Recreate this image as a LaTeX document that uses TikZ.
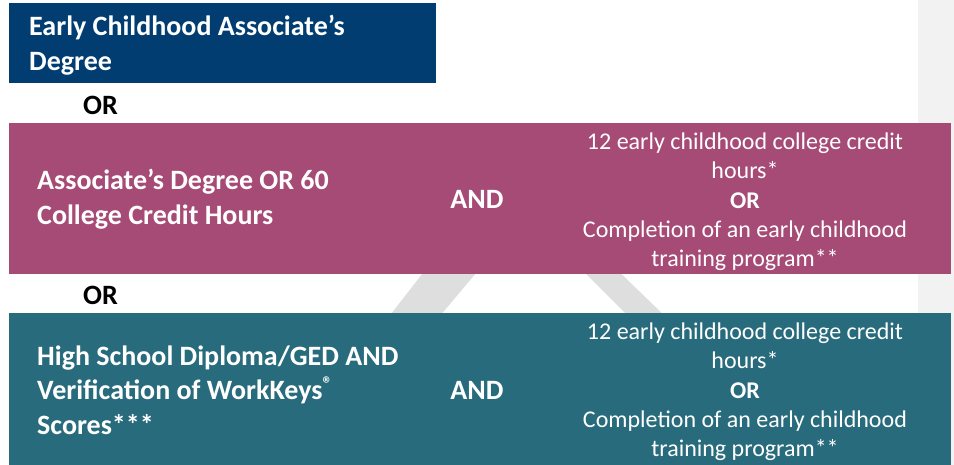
\documentclass[tikz,border=0pt]{standalone}
\usepackage{fontspec}
\setmainfont{Carlito}
\definecolor{navy}{HTML}{023D72}
\definecolor{plum}{HTML}{A64A76}
\definecolor{tealband}{HTML}{286B7C}
\definecolor{stripgray}{HTML}{F2F2F2}
\definecolor{wmgray}{HTML}{DEDEDE}
\begin{document}
\begin{tikzpicture}[x=1pt,y=-1pt,
  band/.style={draw=none,inner sep=0pt,outer sep=0pt,anchor=north west},
  lefttxt/.style={text=white,font=\bfseries\fontsize{28}{34.5}\selectfont,align=left,anchor=west,inner sep=0pt},
  ortxt/.style={text=black,font=\bfseries\fontsize{28}{34}\selectfont,anchor=west,inner sep=0pt},
  andtxt/.style={text=white,font=\bfseries\fontsize{28}{34}\selectfont,anchor=center,inner sep=0pt},
  righttxt/.style={text=white,font=\fontsize{24}{29.3}\selectfont,align=center,anchor=center,inner sep=0pt}]
\useasboundingbox (0,0) rectangle (954,465);
\fill[white] (0,0) rectangle (954,465);
\fill[stripgray] (918,0) rectangle (954,465);
% watermark stripes
\fill[wmgray] (433,260) -- (487,260) -- (434,323) -- (384,323) -- cycle;
\fill[wmgray] (572,260) -- (607,260) -- (672,323) -- (635,323) -- cycle;
% bands
\node[band,fill=navy,minimum width=427pt,minimum height=80pt] (b1) at (9,3) {};
\node[band,fill=plum,minimum width=942pt,minimum height=151pt] (b2) at (9,123) {};
\node[band,fill=tealband,minimum width=942pt,minimum height=152pt] (b3) at (9,313) {};
% texts
\node[lefttxt] (t1) at (29,45) {Early Childhood Associate’s\\Degree};
\node[ortxt] (or1) at (83,105) {OR};
\node[lefttxt] (t2) at (37,199) {Associate’s Degree OR 60\\College Credit Hours};
\node[andtxt] (and1) at (477,199) {AND};
\node[righttxt] (r1) at (745,202) {12 early childhood college credit\\hours*\\\textbf{OR}\\Completion of an early childhood\\training program**};
\node[ortxt] (or2) at (83,295) {OR};
\node[lefttxt] (t3) at (37,390) {High School Diploma/GED AND\\Verification of WorkKeys\textsuperscript{\textregistered}\\Scores***};
\node[andtxt] (and2) at (477,390) {AND};
\node[righttxt] (r2) at (745,392) {12 early childhood college credit\\hours*\\\textbf{OR}\\Completion of an early childhood\\training program**};
\end{tikzpicture}
\end{document}
